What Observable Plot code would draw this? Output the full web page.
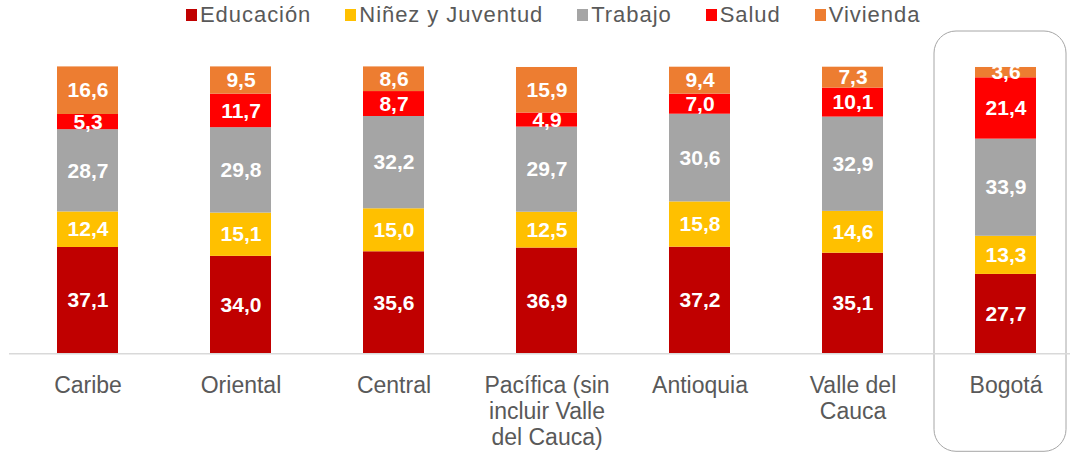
<!DOCTYPE html>
<html>
<head>
<meta charset="utf-8">
<script src="https://cdn.jsdelivr.net/npm/d3@7"></script>
<script src="https://cdn.jsdelivr.net/npm/@observablehq/plot@0.6"></script>
<style>
  html, body { margin: 0; padding: 0; background: #fff; }
  body { width: 1070px; height: 452px; overflow: hidden; font-family: Arial, "Liberation Sans", sans-serif; }
  #legend { height: 30px; display: flex; align-items: center; padding-left: 186px; box-sizing: border-box; }
  .item { display: flex; align-items: center; margin-right: 34px; font-size: 22px; color: #595959; letter-spacing: 0.95px; line-height: 1; }
  .sw { width: 11px; height: 12px; margin-right: 3px; }
</style>
</head>
<body>
<div id="legend"></div>
<div id="chart"></div>
<script>
const regions = ["Caribe", "Oriental", "Central", "Pacífica (sin\nincluir Valle\ndel Cauca)", "Antioquia", "Valle del\nCauca", "Bogotá"];
const series = ["Educación", "Niñez y Juventud", "Trabajo", "Salud", "Vivienda"];
const colors = ["#C00000", "#FFC000", "#A5A5A5", "#FF0000", "#ED7D31"];
const educacion = [37.1, 34.0, 35.6, 36.9, 37.2, 35.1, 27.7];
const ninez     = [12.4, 15.1, 15.0, 12.5, 15.8, 14.6, 13.3];
const trabajo   = [28.7, 29.8, 32.2, 29.7, 30.6, 32.9, 33.9];
const salud     = [5.3, 11.7, 8.7, 4.9, 7.0, 10.1, 21.4];
const vivienda  = [16.6, 9.5, 8.6, 15.9, 9.4, 7.3, 3.6];
const highlighted = ["Bogotá"];

const valuesBySeries = [educacion, ninez, trabajo, salud, vivienda];
const rows = [];
series.forEach((s, si) => regions.forEach((r, ri) => rows.push({region: r, serie: s, value: valuesBySeries[si][ri]})));

const legend = document.getElementById("legend");
series.forEach((s, i) => {
  const it = document.createElement("div");
  it.className = "item";
  it.innerHTML = `<span class="sw" style="background:${colors[i]}"></span><span>${s}</span>`;
  legend.appendChild(it);
});

const fmt = d => d.toFixed(1).replace(".", ",");

const chart = Plot.plot({
  width: 1070,
  height: 422,
  marginTop: 36.7,
  marginBottom: 98.7,
  marginLeft: 9,
  marginRight: 0,
  style: {fontFamily: "Arial, 'Liberation Sans', sans-serif", background: "#fff"},
  x: {domain: regions, range: [9, 1083.5], paddingInner: 0.6, paddingOuter: 0.3, label: null},
  y: {domain: [0, 100], axis: null},
  color: {domain: series, range: colors},
  marks: [
    Plot.cell(highlighted, {x: d => d, fill: "none", stroke: "#a6a6a6", strokeWidth: 1, rx: 22,
      insetTop: -35.7, insetBottom: -98, insetLeft: -41, insetRight: -30}),
    Plot.barY(rows, Plot.stackY({order: series}, {x: "region", y: "value", fill: "serie"})),
    Plot.text(rows, Plot.stackY({order: series}, {x: "region", y: "value", z: "serie", text: d => fmt(d.value),
      fill: "white", fontSize: 21, fontWeight: "bold", style: "letter-spacing: 0.8px"})),
    Plot.ruleY([0], {stroke: "#d9d9d9", strokeWidth: 1.5}),
    Plot.axisX({tickSize: 0, tickPadding: 20, fontSize: 23, fill: "#595959", lineHeight: 1.15, label: null})
  ]
});
document.getElementById("chart").appendChild(chart);
</script>
</body>
</html>
